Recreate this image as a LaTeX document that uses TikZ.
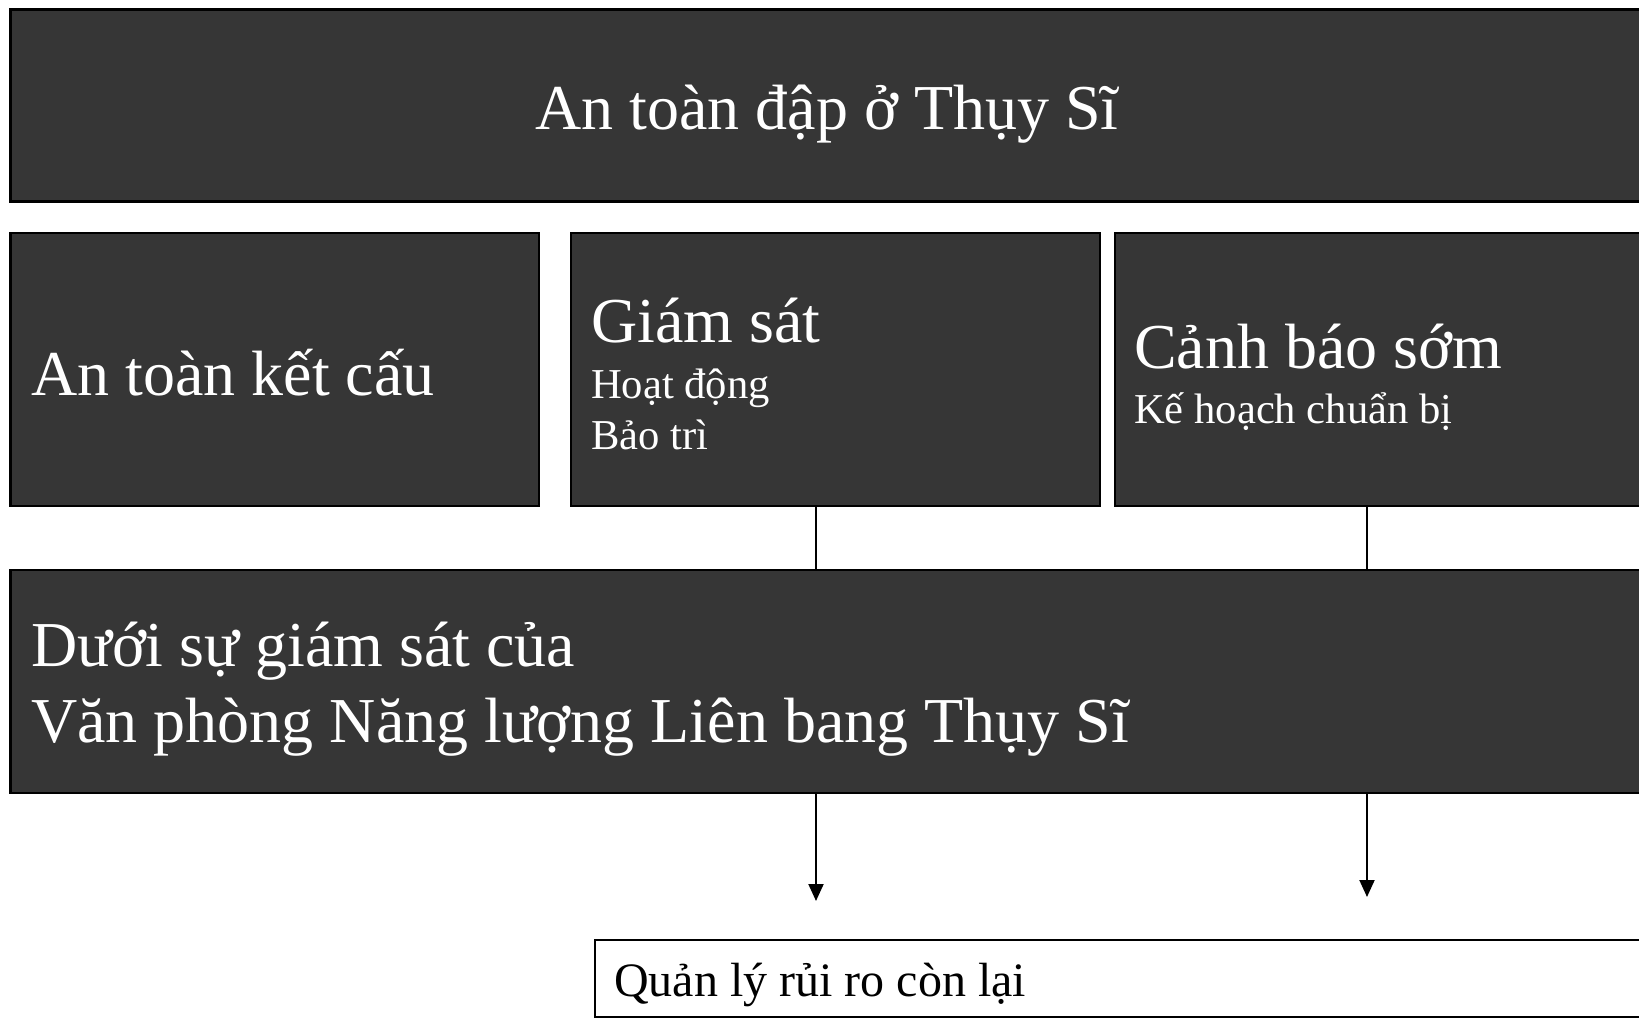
\documentclass[tikz,border=0pt]{standalone}
\usepackage{fontspec}
\setmainfont{Liberation Serif}
\usetikzlibrary{arrows.meta}
\definecolor{boxgrey}{HTML}{363636}
\begin{document}
\begin{tikzpicture}[x=1pt,y=-1pt,
  panel/.style={draw=black, line width=2.5pt, fill=boxgrey, anchor=north west, inner sep=0pt, outer sep=0pt},
  whitepanel/.style={panel, fill=white},
  bigtxt/.style={text=white, anchor=base west, inner sep=0pt, font=\fontsize{64}{76}\selectfont},
  subtxt/.style={text=white, anchor=base west, inner sep=0pt, font=\fontsize{42.6}{48}\selectfont},
  conn/.style={draw=black, line width=2pt},
  arr/.style={conn, -{Triangle[length=17pt,width=15pt]}}
]
\useasboundingbox (0,0) rectangle (1639,1019);
\clip (0,0) rectangle (1639,1019);
\fill[white] (0,0) rectangle (1639,1019);

% boxes
\node[panel, minimum width=1660pt, minimum height=192pt] (top) at (10.5,9.5) {};
\node[panel, minimum width=528.5pt, minimum height=273pt] (boxA) at (10.5,233) {};
\node[panel, minimum width=529pt, minimum height=273pt] (boxB) at (571,233) {};
\node[panel, minimum width=560pt, minimum height=273pt] (boxC) at (1115,233) {};
\node[panel, minimum width=1660pt, minimum height=223pt] (boxD) at (10.5,570) {};
\node[whitepanel, minimum width=1100pt, minimum height=77pt] (boxE) at (595,940) {};

% texts
\node[text=white, anchor=base, inner sep=0pt, font=\fontsize{64}{76}\selectfont] (ttitle) at (827,130) {An toàn đập ở Thụy Sĩ};
\node[bigtxt] (tA) at (31,395) {An toàn kết cấu};
\node[bigtxt] (tB1) at (591,342) {Giám sát};
\node[subtxt] (tB2) at (591,398) {Hoạt động};
\node[subtxt] (tB3) at (591,449) {Bảo trì};
\node[bigtxt] (tC1) at (1134,368) {Cảnh báo sớm};
\node[subtxt] (tC2) at (1134,423) {Kế hoạch chuẩn bị};
\node[bigtxt] (tD1) at (31,666) {Dưới sự giám sát của};
\node[bigtxt] (tD2) at (31,742) {Văn phòng Năng lượng Liên bang Thụy Sĩ};
\node[anchor=base west, inner sep=0pt, font=\fontsize{48}{56}\selectfont] (tE) at (614,996) {Quản lý rủi ro còn lại};

% connectors
\coordinate (xl) at (816,0);
\coordinate (xr) at (1367,0);
\coordinate (endl) at (816,901);
\coordinate (endr) at (1367,897);
\draw[conn] (boxB.south -| xl) -- (boxD.north -| xl);
\draw[conn] (boxC.south -| xr) -- (boxD.north -| xr);
\draw[arr] (boxD.south -| xl) -- (endl);
\draw[arr] (boxD.south -| xr) -- (endr);
\end{tikzpicture}
\end{document}
